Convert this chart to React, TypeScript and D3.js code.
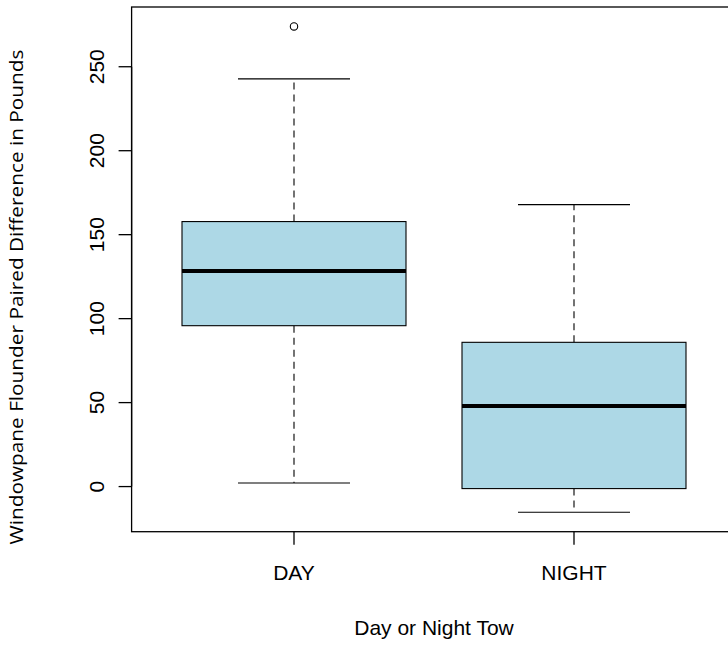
import React, { useEffect, useRef } from "react";
import * as d3 from "d3";

// Five-number summaries per tow type
const groups = ["DAY", "NIGHT"];
const lowerWhisker = [2.1, -15.3];
const q1 = [95.8, -1.2];
const medians = [128.4, 48.0];
const q3 = [157.8, 85.9];
const upperWhisker = [242.8, 167.9];

// Points beyond the whiskers
const outlierGroup = ["DAY"];
const outlierValues = [274];

const yTicks = [0, 50, 100, 150, 200, 250];

const xTitle = "Day or Night Tow";
const yTitle = "Windowpane Flounder Paired Difference in Pounds";

const W = 728;
const H = 646;
const plot = { left: 131.6, right: 736.4, top: 7, bottom: 531.7 };
const sansFont = "'Liberation Sans', Arial, Helvetica, sans-serif";

export default function App() {
  const ref = useRef<SVGSVGElement | null>(null);

  useEffect(() => {
    const svg = d3.select(ref.current);
    svg.selectAll("*").remove();

    const allVals = [...lowerWhisker, ...upperWhisker, ...outlierValues];
    const lo = d3.min(allVals) as number;
    const hi = d3.max(allVals) as number;
    const pad = (hi - lo) * 0.04;

    const x = d3
      .scaleLinear()
      .domain([0.42, 2.58])
      .range([plot.left, plot.right]);
    const y = d3
      .scaleLinear()
      .domain([lo - pad, hi + pad])
      .range([plot.bottom, plot.top]);

    const g = svg.append("g");

    groups.forEach((name, i) => {
      const c = i + 1;
      const cx = x(c);
      // dashed whiskers
      g.append("line")
        .attr("x1", cx).attr("x2", cx)
        .attr("y1", y(q3[i])).attr("y2", y(upperWhisker[i]))
        .attr("stroke", "#000").attr("stroke-width", 1.1)
        .attr("stroke-dasharray", "7,5");
      g.append("line")
        .attr("x1", cx).attr("x2", cx)
        .attr("y1", y(q1[i])).attr("y2", y(lowerWhisker[i]))
        .attr("stroke", "#000").attr("stroke-width", 1.1)
        .attr("stroke-dasharray", "7,5");
      // staples
      [upperWhisker[i], lowerWhisker[i]].forEach((v) => {
        g.append("line")
          .attr("x1", x(c - 0.2)).attr("x2", x(c + 0.2))
          .attr("y1", y(v)).attr("y2", y(v))
          .attr("stroke", "#000").attr("stroke-width", 1.1);
      });
      // box
      g.append("rect")
        .attr("x", x(c - 0.4))
        .attr("y", y(q3[i]))
        .attr("width", x(c + 0.4) - x(c - 0.4))
        .attr("height", y(q1[i]) - y(q3[i]))
        .attr("fill", "#ADD8E6")
        .attr("stroke", "#000")
        .attr("stroke-width", 1.1);
      // median
      g.append("line")
        .attr("x1", x(c - 0.4)).attr("x2", x(c + 0.4))
        .attr("y1", y(medians[i])).attr("y2", y(medians[i]))
        .attr("stroke", "#000").attr("stroke-width", 4);
    });

    outlierValues.forEach((v, k) => {
      const c = groups.indexOf(outlierGroup[k]) + 1;
      g.append("circle")
        .attr("cx", x(c)).attr("cy", y(v)).attr("r", 3.7)
        .attr("fill", "none").attr("stroke", "#000").attr("stroke-width", 1.1);
    });

    // plot frame
    g.append("rect")
      .attr("x", plot.left).attr("y", plot.top)
      .attr("width", plot.right - plot.left)
      .attr("height", plot.bottom - plot.top)
      .attr("fill", "none").attr("stroke", "#000").attr("stroke-width", 1.3);

    // y axis
    g.append("line")
      .attr("x1", plot.left).attr("x2", plot.left)
      .attr("y1", y(yTicks[0])).attr("y2", y(yTicks[yTicks.length - 1]))
      .attr("stroke", "#000").attr("stroke-width", 1.3);
    yTicks.forEach((t) => {
      g.append("line")
        .attr("x1", plot.left).attr("x2", plot.left - 13)
        .attr("y1", y(t)).attr("y2", y(t))
        .attr("stroke", "#000").attr("stroke-width", 1.3);
      g.append("text")
        .attr("transform", `translate(103.5,${y(t)}) rotate(-90)`)
        .attr("text-anchor", "middle")
        .attr("font-family", sansFont)
        .attr("font-size", 21)
        .attr("fill", "#000")
        .text(String(t));
    });

    // x axis
    groups.forEach((name, i) => {
      const cx = x(i + 1);
      g.append("line")
        .attr("x1", cx).attr("x2", cx)
        .attr("y1", plot.bottom).attr("y2", plot.bottom + 13)
        .attr("stroke", "#000").attr("stroke-width", 1.3);
      g.append("text")
        .attr("x", cx).attr("y", 579.5)
        .attr("text-anchor", "middle")
        .attr("font-family", sansFont)
        .attr("font-size", 21)
        .attr("fill", "#000")
        .text(name);
    });

    // titles
    g.append("text")
      .attr("x", (plot.left + plot.right) / 2)
      .attr("y", 635)
      .attr("text-anchor", "middle")
      .attr("font-family", sansFont)
      .attr("font-size", 21)
      .attr("fill", "#000")
      .text(xTitle);
    g.append("text")
      .attr("transform", "translate(23,297) rotate(-90)")
      .attr("text-anchor", "middle")
      .attr("font-family", "'Open Sans', 'Noto Sans', sans-serif")
      .attr("font-size", 19)
      .attr("textLength", 495)
      .attr("lengthAdjust", "spacingAndGlyphs")
      .attr("fill", "#000")
      .text(yTitle);
  }, []);

  return (
    <svg
      ref={ref}
      width={W}
      height={H}
      style={{ position: "absolute", left: 0, top: 0, background: "#fff" }}
    />
  );
}
